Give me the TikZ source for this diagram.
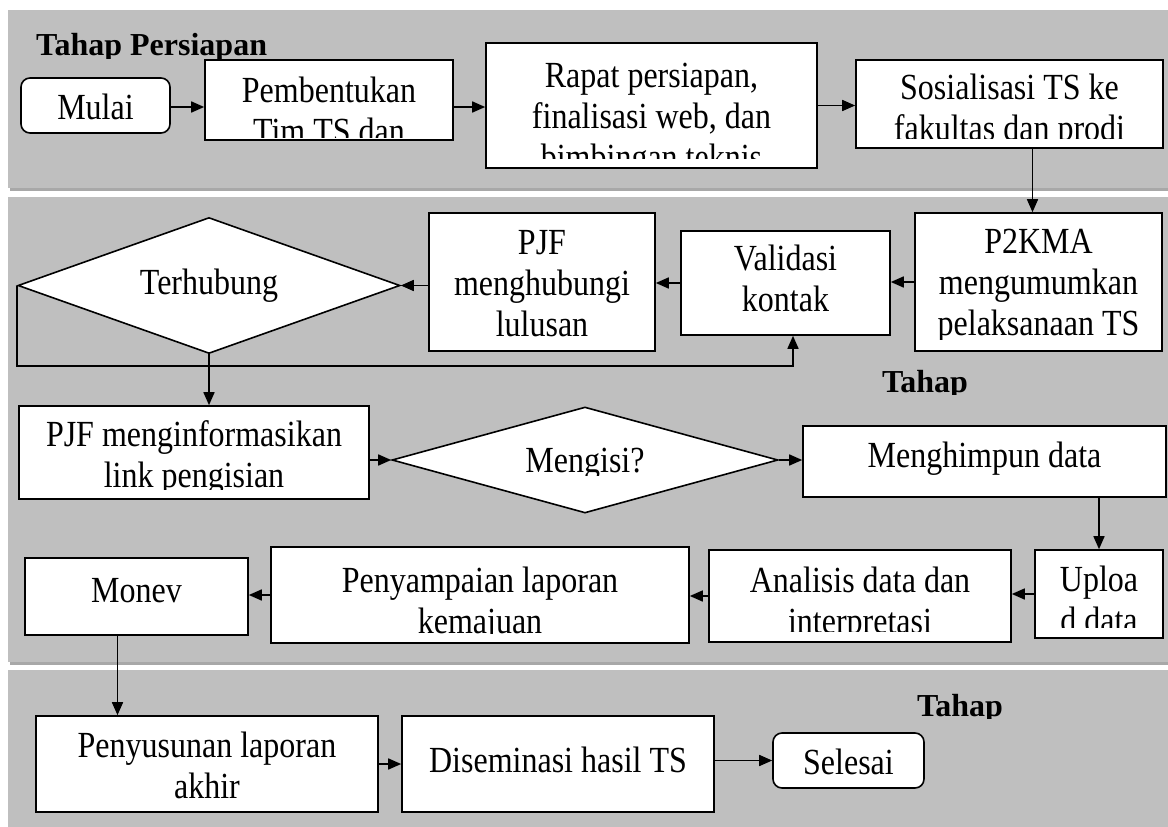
\documentclass[tikz,border=0pt]{standalone}
\usepackage{graphicx}
\usepackage{fontspec}
\setmainfont{Liberation Serif}
\usetikzlibrary{arrows.meta, positioning, shapes.geometric, calc}

\definecolor{bandgray}{RGB}{191,191,191}
\definecolor{shadowgray}{RGB}{168,168,168}

\tikzset{
    box/.style={draw, fill=white, line width=1.6pt, inner sep=0pt},
    terminal/.style={box, rounded corners=9pt},
    decision/.style={diamond, draw, fill=white, line width=1.6pt, inner sep=0pt},
    txt/.style={inner sep=0pt, font=\fontsize{32}{35.7}\selectfont},
    phase/.style={inner sep=0pt, font=\fontsize{32}{41}\selectfont\bfseries},
    arr/.style={-{Triangle[length=13pt,width=11pt]}, line width=1.6pt},
}

% lines of a box, a bit taller than wide
\newcommand{\tall}[1]{\scalebox{1}[1.15]{\begin{tabular}[t]{@{}c@{}}#1\end{tabular}}}

% text of a box, first baseline #2 below the top, cut #3 above the bottom
\newcommand{\boxtext}[4]{%
    \begin{scope}
        \clip (#1.west |- #1.north) rectangle ($(#1.east |- #1.south)+(0,-#3)$);
        \node[txt, anchor=base] (#1-text) at ($(#1.north)+(0,#2)$) {\tall{#4}};
    \end{scope}}

\begin{document}
\begin{tikzpicture}[x=1pt,y=-1pt]
    \useasboundingbox (0,0) rectangle (1168,827);

    % phases
    \foreach \ya/\yb in {10/188, 197/662, 670/827} {
        \fill[shadowgray] (10,{\ya+2}) rectangle (1168,{\yb+2.5});
        \fill[bandgray] (8,\ya) rectangle (1168,\yb);
    }
    \begin{scope}
        \clip (0,0) rectangle (1168,58);
        \node[phase, anchor=base west] (persiapan) at (36,55) {Tahap Persiapan};
    \end{scope}
    \begin{scope}
        \clip (840,340) rectangle (1010,394);
        \node[phase, anchor=base] (pelaksanaan) at (925,392) {Tahap};
    \end{scope}
    \begin{scope}
        \clip (880,670) rectangle (1050,718);
        \node[phase, anchor=base] (pelaporan) at (960,716) {Tahap};
    \end{scope}

    % boxes
    \node[terminal, minimum width=149pt, minimum height=55pt] (mulai) at (95.5,105.5) {};
    \node[box, minimum width=248pt, minimum height=80pt] (pembentukan) at (329,100) {};
    \node[box, minimum width=331pt, minimum height=125pt] (rapat) at (651.5,105.5) {};
    \node[box, minimum width=307pt, minimum height=88pt] (sosialisasi) at (1009.5,104) {};

    \node[box, minimum width=247pt, minimum height=138pt] (p2kma) at (1038.5,282) {};
    \node[box, minimum width=209pt, minimum height=104pt] (validasi) at (785.5,283) {};
    \node[box, minimum width=226pt, minimum height=138pt] (hubungi) at (542,282) {};
    \node[decision, minimum width=382pt, minimum height=136pt] (terhubung) at (209,285.5) {};

    \node[box, minimum width=350pt, minimum height=93pt] (informasi) at (194,452.5) {};
    \node[decision, minimum width=386pt, minimum height=106pt] (mengisi) at (585,460) {};
    \node[box, minimum width=363pt, minimum height=71pt] (menghimpun) at (984.5,461.5) {};

    \node[box, minimum width=128pt, minimum height=88pt] (upload) at (1099,594) {};
    \node[box, minimum width=302pt, minimum height=92pt] (analisis) at (860,596) {};
    \node[box, minimum width=418pt, minimum height=96pt] (penyampaian) at (480,595) {};
    \node[box, minimum width=223pt, minimum height=77pt] (monev) at (136.5,596.5) {};

    \node[box, minimum width=342pt, minimum height=96pt] (penyusunan) at (207,764) {};
    \node[box, minimum width=312pt, minimum height=96pt] (diseminasi) at (558,764) {};
    \node[terminal, minimum width=151pt, minimum height=55pt] (selesai) at (848.5,760.5) {};

    % texts
    \boxtext{mulai}{42}{0}{Mulai}
    \boxtext{pembentukan}{43}{3}{Pembentukan\\Tim TS dan}
    \boxtext{rapat}{45}{10}{Rapat persiapan,\\finalisasi web, dan\\bimbingan teknis}
    \boxtext{sosialisasi}{40}{10}{Sosialisasi TS ke\\fakultas dan prodi}
    \boxtext{p2kma}{41}{12}{P2KMA\\mengumumkan\\pelaksanaan TS}
    \boxtext{validasi}{40}{3}{Validasi\\kontak}
    \boxtext{hubungi}{42}{5}{PJF\\menghubungi\\lulusan}
    \boxtext{terhubung}{78}{0}{Terhubung}
    \boxtext{informasi}{41}{10}{PJF menginformasikan\\link pengisian}
    \boxtext{mengisi}{66}{38}{Mengisi?}
    \boxtext{menghimpun}{42}{3}{Menghimpun data}
    \boxtext{upload}{42}{11}{Uploa\\d data}
    \boxtext{analisis}{43}{11}{Analisis data dan\\interpretasi}
    \boxtext{penyampaian}{46}{10}{Penyampaian laporan\\kemajuan}
    \boxtext{monev}{45}{3}{Monev}
    \boxtext{penyusunan}{42}{3}{Penyusunan laporan\\akhir}
    \boxtext{diseminasi}{57}{3}{Diseminasi hasil TS}
    \boxtext{selesai}{42}{0}{Selesai}

    % connectors
    \coordinate (loop) at (793,366);
    \draw[arr] ([yshift=-1.5pt]mulai.east) -- ([yshift=-1.5pt]mulai.east -| pembentukan.west);
    \draw[arr] ([yshift=-7pt]pembentukan.east) -- ([yshift=-7pt]pembentukan.east -| rapat.west);
    \draw[arr] (rapat.east) -- (rapat.east -| sosialisasi.west);
    \draw[arr] ([xshift=-6pt]p2kma.north |- sosialisasi.south) -- ([xshift=-6pt]p2kma.north);
    \draw[arr] (p2kma.west) -- (p2kma.west -| validasi.east);
    \draw[arr] (validasi.west) -- (validasi.west -| hubungi.east);
    \draw[arr] (terhubung.east -| hubungi.west) -- (terhubung.east);
    \draw[arr] (terhubung.west) |- (loop) -- (loop |- validasi.south);
    \draw[arr] (terhubung.south) -- (terhubung.south |- informasi.north);
    \draw[arr] (mengisi.west -| informasi.east) -- (mengisi.west);
    \draw[arr] (mengisi.east) -- (mengisi.east -| menghimpun.west);
    \draw[arr] (menghimpun.south -| upload.north) -- (upload.north);
    \draw[arr] (upload.west) -- (upload.west -| analisis.east);
    \draw[arr] (analisis.west) -- (analisis.west -| penyampaian.east);
    \draw[arr] (penyampaian.west) -- (penyampaian.west -| monev.east);
    \draw[arr] ([xshift=-19pt]monev.south) -- ([xshift=-19pt]monev.south |- penyusunan.north);
    \draw[arr] (penyusunan.east) -- (penyusunan.east -| diseminasi.west);
    \draw[arr] (selesai.west -| diseminasi.east) -- (selesai.west);
\end{tikzpicture}
\end{document}
